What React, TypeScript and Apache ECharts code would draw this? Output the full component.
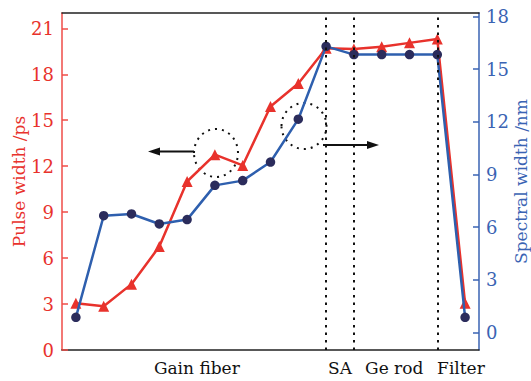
import React, { useEffect, useRef } from "react";
import * as echarts from "echarts";

// Measurement points along the cavity (index only)
const categories = ["1", "2", "3", "4", "5", "6", "7", "8", "9", "10", "11", "12", "13", "14", "15"];
// Pulse width (ps) - left axis
const pulseWidth = [3.05, 2.85, 4.3, 6.75, 11.0, 12.75, 12.05, 15.9, 17.4, 19.7, 19.65, 19.8, 20.05, 20.3, 3.05];
// Spectral width (nm) - right axis
const spectralWidth = [0.86, 6.65, 6.75, 6.18, 6.43, 8.38, 8.65, 9.71, 12.15, 16.3, 15.83, 15.83, 15.83, 15.83, 0.86];
// Section dividers (category names)
const dividers = ["10", "11", "14"];
// Section labels and their centre on the point-index scale
const sectionLabels = ["Gain fiber", "SA", "Ge rod", "Filter"];
const sectionCenters = [4.35, 9.5, 11.45, 13.85];
// Tick labels
const leftTicks = [0, 3, 6, 9, 12, 15, 18, 21];
const rightTicks = [0, 3, 6, 9, 12, 15, 18];

const RED = "#e8322c";
const RED_AXIS = "#ef4d47";
const BLUE = "#2e5fae";
const DOT = "#2b2c5c";
const BLUE_AXIS = "#3a63b3";
const FONT = "DejaVu Serif";

export default function App() {
  const ref = useRef<HTMLDivElement>(null);
  useEffect(() => {
    if (!ref.current) return;
    const chart = echarts.init(ref.current, undefined, { renderer: "svg" });
    const dotted = { color: "#111", width: 2, type: [2.5, 5] as any };
    const arrow = (x1: number, x2: number, y: number) => {
      const dir = x2 > x1 ? 1 : -1;
      return [
        { type: "line", shape: { x1, y1: y, x2: x2 - dir * 8, y2: y }, style: { stroke: "#111", lineWidth: 2 } },
        {
          type: "polygon",
          shape: { points: [[x2, y], [x2 - dir * 12, y - 4], [x2 - dir * 12, y + 4]] },
          style: { fill: "#111" },
        },
      ];
    };
    chart.setOption({
      animation: false,
      grid: { left: 62, right: 52, top: 13, bottom: 31, containLabel: false, outerBoundsMode: "none" },
      xAxis: [
        {
          type: "category",
          data: categories,
          boundaryGap: true,
          position: "bottom",
          axisLine: { show: true, onZero: false, lineStyle: { color: "#222", width: 1.5 } },
          axisTick: { show: false },
          axisLabel: { show: false },
          splitLine: { show: false },
        },
        {
          type: "value",
          min: -0.5,
          max: 14.5,
          position: "bottom",
          axisLine: { show: false, onZero: false },
          axisTick: { show: false },
          splitLine: { show: false },
          axisLabel: {
            customValues: sectionCenters,
            formatter: (v: number) => {
              const i = sectionCenters.findIndex((c) => Math.abs(c - v) < 1e-6);
              return i >= 0 ? sectionLabels[i] : "";
            },
            color: "#111",
            fontFamily: FONT,
            fontSize: 17,
            margin: 9,
          },
        },
        {
          type: "category",
          data: categories,
          position: "top",
          axisLine: { show: true, onZero: false, lineStyle: { color: "#222", width: 1.5 } },
          axisTick: { show: false },
          axisLabel: { show: false },
        },
      ],
      yAxis: [
        {
          type: "value",
          min: 0,
          max: 22,
          position: "left",
          name: "Pulse width /ps",
          nameLocation: "middle",
          nameGap: 35,
          nameMoveOverlap: false,
          nameTextStyle: { color: RED, fontFamily: FONT, fontSize: 17 },
          axisLine: { show: true, onZero: false, lineStyle: { color: RED_AXIS, width: 1.5 } },
          axisTick: { show: true, inside: true, length: 6, customValues: leftTicks, lineStyle: { color: RED_AXIS, width: 1.5 } },
          axisLabel: { customValues: leftTicks, color: RED, fontFamily: FONT, fontSize: 18, margin: 8 },
          splitLine: { show: false },
        },
        {
          type: "value",
          min: -1,
          max: 18.2,
          position: "right",
          offset: 0,
          name: "Spectral width /nm",
          nameLocation: "middle",
          nameGap: 33,
          nameRotate: 90,
          nameMoveOverlap: false,
          nameTextStyle: { color: BLUE_AXIS, fontFamily: FONT, fontSize: 17 },
          axisLine: { show: true, onZero: false, lineStyle: { color: BLUE_AXIS, width: 1.5 } },
          axisTick: { show: true, inside: true, length: 6, customValues: rightTicks, lineStyle: { color: BLUE_AXIS, width: 1.5 } },
          axisLabel: { customValues: rightTicks, color: BLUE_AXIS, fontFamily: FONT, fontSize: 18, margin: 7 },
          splitLine: { show: false },
        },
      ],
      series: [
        {
          type: "line",
          name: "Pulse width",
          xAxisIndex: 0,
          yAxisIndex: 0,
          data: pulseWidth,
          symbol: "triangle",
          symbolSize: 11,
          itemStyle: { color: RED },
          lineStyle: { color: RED, width: 2.5 },
          markLine: {
            silent: true,
            symbol: "none",
            label: { show: false },
            lineStyle: dotted,
            data: dividers.map((d) => ({ xAxis: d })),
          },
          z: 2,
        },
        {
          type: "line",
          name: "Spectral width",
          xAxisIndex: 0,
          yAxisIndex: 1,
          data: spectralWidth,
          symbol: "circle",
          symbolSize: 9.5,
          itemStyle: { color: DOT },
          lineStyle: { color: BLUE, width: 2.5 },
          z: 3,
        },
      ],
      graphic: [
        { type: "ellipse", shape: { cx: 216, cy: 153, rx: 22, ry: 24 }, style: { fill: "none", stroke: "#111", lineWidth: 2, lineDash: [2, 5] } },
        { type: "ellipse", shape: { cx: 304, cy: 126, rx: 22.5, ry: 23 }, style: { fill: "none", stroke: "#111", lineWidth: 2, lineDash: [2, 5] } },
        ...arrow(194, 148, 151.5),
        ...arrow(323, 379, 145),
      ],
    });
    return () => chart.dispose();
  }, []);
  return (
    <div
      ref={ref}
      style={{ position: "fixed", left: 0, top: 0, width: 531, height: 381, background: "#fff" }}
    />
  );
}
